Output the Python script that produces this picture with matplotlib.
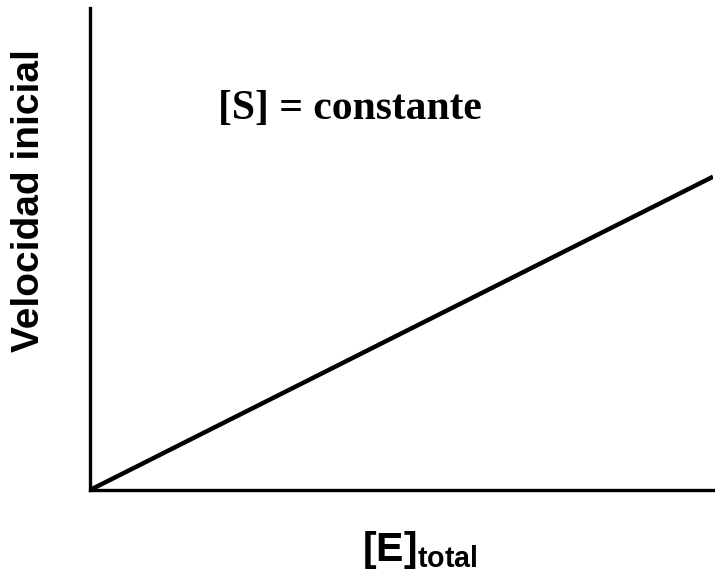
import matplotlib
matplotlib.use("Agg")
import matplotlib.pyplot as plt

plt.rcParams['mathtext.fontset'] = 'custom'
plt.rcParams['mathtext.bf'] = 'Liberation Sans:bold'
plt.rcParams['mathtext.rm'] = 'Liberation Sans:bold'

# enzyme concentration vs initial velocity (linear, [S] constant)
e_total = [0.0, 1.0]
velocidad = [0.0, 0.65]

fig = plt.figure(figsize=(7.15, 5.77), dpi=100)
ax = fig.add_axes([90 / 715, 87 / 577, 623 / 715, 482 / 577])

ax.plot(e_total, velocidad, color='black', linewidth=3.2, solid_capstyle='butt')
ax.set_xlim(0, 1)
ax.set_ylim(0, 1)

for side in ('top', 'right'):
    ax.spines[side].set_visible(False)
for side in ('left', 'bottom'):
    ax.spines[side].set_linewidth(2.4)
ax.set_xticks([])
ax.set_yticks([])

fig.text(29 / 715, 1 - 201 / 577, 'Velocidad inicial', rotation=90,
         ha='center', va='center', fontsize=28, fontweight='bold',
         family='Liberation Sans')
fig.text(420 / 715, 1 - 550 / 577, r'$\mathbf{[E]_{total}}$',
         ha='center', va='center', fontsize=29.5)
fig.text(218 / 715, 1 - 109 / 577, '[S] = constante', ha='left', va='center',
         fontsize=30, fontweight='bold', family='Liberation Serif')

fig.savefig('out.png', dpi=100)
